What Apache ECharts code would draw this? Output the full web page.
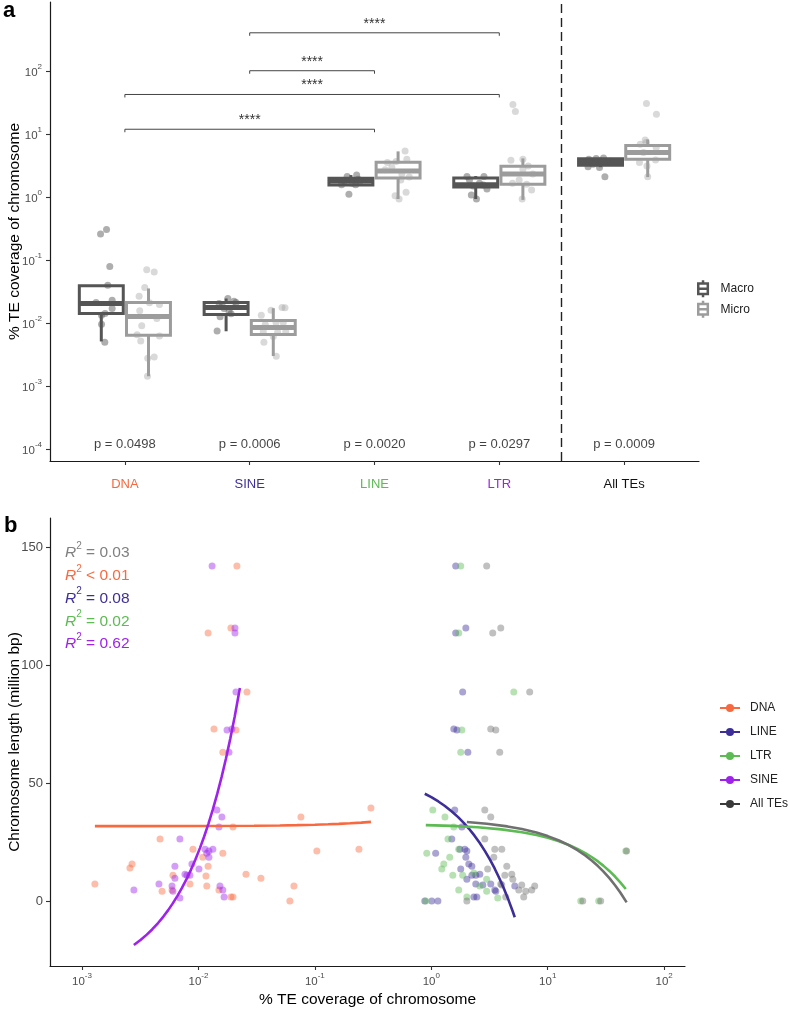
<!DOCTYPE html>
<html><head><meta charset="utf-8">
<script src="https://cdn.jsdelivr.net/npm/echarts@6/dist/echarts.min.js"></script>
<style>html,body{margin:0;padding:0;background:#fff}#c{width:789px;height:1010px}</style>
</head><body><div id="c"></div>
<script>
// ---------------- Panel a data ----------------
const categories = ['DNA', 'SINE', 'LINE', 'LTR', 'All TEs'];
const categoryColors = ['#F8693F', '#3E2F98', '#5CBB52', '#9E22EC', '#111111'];
const pValues = ['p = 0.0498', 'p = 0.0006', 'p = 0.0020', 'p = 0.0297', 'p = 0.0009'];
// box stats per category: [lower whisker, Q1, median, Q3, upper whisker]
const macroBox = [
  [0.0051, 0.0142, 0.0204, 0.039, 0.039],
  [0.0074, 0.0137, 0.0177, 0.0211, 0.0245],
  [1.50, 1.55, 1.79, 1.99, 2.23],
  [0.93, 1.44, 1.57, 2.0, 2.15],
  [2.98, 3.20, 3.57, 4.06, 4.2]
];
const microBox = [
  [0.00143, 0.00637, 0.0127, 0.0211, 0.0354],
  [0.0030, 0.0066, 0.0085, 0.0110, 0.0172],
  [0.93, 2.0, 2.58, 3.57, 5.3],
  [0.90, 1.60, 2.31, 3.09, 4.1],
  [2.07, 3.98, 5.1, 6.6, 8.2]
];
// jittered points: [category index, jitter, value]
const macroPoints = [
  [0,-0.006,0.260],[0,0.042,0.304],[0,0.068,0.0792],[0,0.052,0.0397],[0,0.087,0.0230],[0,-0.042,0.0211],
  [0,0.087,0.0170],[0,0.002,0.0133],[0,0.002,0.0096],[0,0.028,0.00494],[0,0.03,0.0142],
  [1,0.014,0.0245],[1,0.064,0.0222],[1,-0.056,0.0204],[1,-0.016,0.0170],[1,0.024,0.0153],[1,-0.048,0.0126],
  [1,-0.072,0.00745],[1,0.08,0.0211],[1,-0.03,0.0185],[1,0.04,0.0140],
  [2,-0.075,1.56],[2,-0.03,2.12],[2,0.046,2.23],[2,0.038,1.56],[2,-0.016,1.11],[2,0.06,1.92],[2,-0.05,1.79],[2,0.01,1.66],[2,0.07,1.75],
  [3,-0.07,2.12],[3,0.066,2.12],[3,-0.035,1.08],[3,0.006,0.93],[3,0.09,1.34],[3,-0.05,1.86],[3,0.03,1.66],[3,0.06,1.55],[3,-0.02,1.5],
  [4,-0.10,3.01],[4,-0.008,2.94],[4,0.035,2.09],[4,-0.035,4.09],[4,0.024,4.18],[4,-0.094,3.98],[4,0.05,3.57],[4,-0.06,3.32],[4,0.08,3.7]
];
const microPoints = [
  [0,-0.014,0.0703],[0,0.046,0.0646],[0,-0.030,0.0365],[0,-0.075,0.0266],[0,0.008,0.0209],[0,0.088,0.0197],
  [0,-0.070,0.0156],[0,0.067,0.0118],[0,-0.054,0.00906],[0,-0.091,0.00653],[0,0.088,0.00621],[0,-0.062,0.00518],
  [0,-0.006,0.00276],[0,0.046,0.00289],[0,-0.008,0.00143],
  [1,-0.096,0.0133],[1,-0.018,0.0160],[1,0.07,0.0176],[1,0.094,0.0175],[1,-0.064,0.0095],[1,0.022,0.0102],[1,0.08,0.0102],
  [1,-0.08,0.00729],[1,0.035,0.00711],[1,0.10,0.0073],[1,-0.075,0.00494],[1,0.024,0.00297],[1,0.0,0.00614],
  [2,0.056,5.39],[2,-0.086,3.53],[2,-0.016,3.66],[2,0.070,3.98],[2,-0.104,2.70],[2,0.022,1.86],[2,0.064,1.19],
  [2,-0.024,1.05],[2,0.008,0.93],[2,0.03,2.31],[2,-0.05,2.98],[2,0.09,2.07],
  [3,-0.096,3.84],[3,0.0,3.98],[3,0.043,3.12],[3,-0.03,1.86],[3,-0.083,1.65],[3,0.03,1.59],[3,0.07,1.29],
  [3,-0.006,0.93],[3,0.0,2.77],[3,-0.08,29.5],[3,-0.06,22.8],[3,0.08,2.31],
  [4,-0.02,8.04],[4,-0.06,6.87],[4,-0.012,7.31],[4,0.068,6.10],[4,-0.066,3.53],[4,0.063,3.88],[4,-0.006,3.12],
  [4,0.0,2.09],[4,-0.034,5.08],[4,-0.01,30.5],[4,0.07,20.5]
];
// significance brackets: [from category, to category, height]
const brackets = [[1, 3, 11.9], [1, 4, 42.4], [2, 3, 101], [2, 4, 404]];
const sigLabel = '****';
const yTicksA = [1e-4, 1e-3, 1e-2, 1e-1, 1, 10, 100];

// ---------------- Panel b data ----------------
const teNames = ['DNA', 'LINE', 'LTR', 'SINE', 'All TEs'];
const teColors = ['#F8693F', '#3E2F98', '#5CBB52', '#9E22EC', '#707070'];
// points: [% TE coverage, chromosome length (Mb)]
const dnaPoints = [
  [0.0214,142],[0.0121,113.6],[0.0190,115.7],[0.0261,88.6],[0.0136,72.9],[0.0210,72.5],[0.0162,63.1],
  [0.00129,7.2],[0.00258,14.0],[0.00269,15.7],[0.00468,26.3],[0.00487,4.2],[0.00604,11.0],[0.00593,4.7],
  [0.00845,7.2],[0.00897,22.0],[0.0109,18.6],[0.0116,10.6],[0.0118,6.4],[0.0121,14.8],[0.0150,4.7],
  [0.0162,20.3],[0.0190,1.7],[0.0198,1.7],[0.0198,31.4],[0.0256,11.4],[0.0344,9.7],[0.0610,0.0],
  [0.0661,6.4],[0.0759,35.6],[0.104,21.2],[0.239,22.0],[0.303,39.4]
];
const sinePoints = [
  [0.0131,142],[0.0206,115.7],[0.0206,113.6],[0.0210,88.6],[0.0176,72.5],[0.0194,72.9],[0.0183,63.1],
  [0.00279,4.7],[0.00458,7.2],[0.00593,6.4],[0.00604,4.2],[0.00628,14.8],[0.00628,9.7],[0.00693,1.3],
  [0.00693,26.3],[0.00766,11.4],[0.00796,11.0],[0.00845,11.0],[0.00879,15.7],[0.0101,13.6],[0.0114,22.0],
  [0.0118,20.3],[0.0123,18.6],[0.0123,21.2],[0.0133,22.0],[0.0144,38.6],[0.0150,31.4],[0.0159,35.6],
  [0.0153,6.4],[0.0162,4.7],[0.0166,1.7]
];
const linePoints = [
  [1.62,142],[1.62,113.6],[1.98,115.7],[1.86,88.6],[1.56,72.9],[1.66,72.5],[2.06,63.1],
  [1.59,38.6],[1.83,31.4],[1.50,26.3],[1.09,20.3],[1.76,22.0],[1.94,22.0],[2.02,21.2],[1.98,18.6],
  [2.10,15.7],[2.23,14.8],[1.79,13.6],[2.02,9.3],[2.23,11.0],[2.41,11.0],[2.61,11.4],[2.41,7.2],
  [2.77,6.8],[3.24,7.2],[3.51,4.7],[3.58,4.2],[2.32,1.7],[2.46,1.7],[1.01,0],[1.14,0],[0.879,0],[5.21,6.4]
];
const ltrPoints = [
  [1.79,142],[1.72,113.6],[5.11,88.6],[1.83,72.5],[1.79,63.1],
  [1.03,38.6],[1.31,35.6],[1.56,31.4],[1.39,26.3],[0.914,20.3],[1.44,18.6],[1.28,15.7],[1.23,13.6],
  [1.53,11.0],[1.72,4.7],[1.86,11.0],[2.02,1.7],[2.32,11.9],[2.61,6.4],[2.99,9.3],[2.99,4.2],[3.72,1.3],
  [0.897,0],[19.2,0],[27.4,0],[46.8,21.2],[1.72,22.0]
];
const allPoints = [
  [2.99,142],[3.37,113.6],[3.95,115.7],[7.00,88.6],[3.24,72.9],[3.58,72.5],[3.87,63.1],
  [2.88,38.6],[3.24,35.6],[2.88,26.3],[3.51,22.0],[4.03,22.0],[3.44,18.6],[4.45,14.8],[3.05,13.6],
  [4.28,11.0],[4.91,11.4],[5.01,9.3],[3.95,7.2],[4.03,6.8],[5.64,4.7],[6.47,4.2],[7.29,4.7],[7.73,6.4],
  [5.98,6.8],[4.36,1.7],[6.22,1.7],[2.02,0],[20.0,0],[28.5,0],[47.6,21.2]
];
// fitted regression lines: [coverage, length]
const dnaFit = [[0.00129,31.76],[0.003,31.77],[0.01,31.81],[0.03,31.93],[0.05,32.05],[0.07,32.17],[0.1,32.35],
  [0.13,32.53],[0.16,32.71],[0.2,32.95],[0.25,33.25],[0.303,33.57]];
const lineFit = [[0.879,45.48],[1.0,44.02],[1.15,42.21],[1.3,40.40],[1.5,37.98],[1.7,35.56],[1.9,33.15],[2.1,30.73],
  [2.35,27.71],[2.6,24.69],[2.9,21.07],[3.2,17.44],[3.5,13.82],[3.85,9.59],[4.2,5.36],[4.6,0.53],[5.0,-4.3],[5.21,-6.84]];
const ltrFit = [[0.897,32.20],[1.5,31.85],[2.5,31.26],[4,30.37],[6,29.19],[8,28.01],[10,26.83],[12.5,25.36],[15,23.88],
  [18,22.11],[21,20.34],[24,18.57],[27,16.80],[30,15.03],[34,12.67],[38,10.31],[42,7.95],[46.8,5.12]];
const sineFit = [[0.00279,-18.64],[0.0032,-16.40],[0.0036,-14.21],[0.004,-12.02],[0.0045,-9.29],[0.005,-6.55],
  [0.0055,-3.82],[0.006,-1.08],[0.0066,2.20],[0.0072,5.48],[0.0079,9.31],[0.0086,13.14],[0.0094,17.52],[0.0103,22.44],
  [0.0112,27.36],[0.0122,32.83],[0.0133,38.85],[0.0145,45.42],[0.0158,52.53],[0.0172,60.18],[0.0188,68.94],
  [0.0205,78.24],[0.0227,90.27]];
const allFit = [[2.02,33.49],[3,32.76],[4.5,31.64],[6,30.52],[8,29.02],[10,27.53],[12.5,25.66],[15,23.80],[18,21.55],
  [21,19.31],[24,17.07],[27,14.83],[30,12.59],[34,9.60],[38,6.61],[42,3.63],[47.6,-0.56]];
const r2Order = ['All TEs', 'DNA', 'LINE', 'LTR', 'SINE'];
const r2Text = ['= 0.03', '< 0.01', '= 0.08', '= 0.02', '= 0.62'];
const xTicksB = [1e-3, 1e-2, 1e-1, 1, 10, 100];
const yTicksB = [0, 50, 100, 150];

// ---------------- layout / style ----------------
const FONT = 'Liberation Sans, Arial, Helvetica, sans-serif';
const DODGE = 0.189, HALFBOX = 0.176;
const MACRO_C = '#555555', MICRO_C = '#9C9C9C';
const P_LEVEL = 1.17e-4;
const chart = echarts.init(document.getElementById('c'), null, {renderer: 'canvas'});

function rgba(hex, a) {
  const n = parseInt(hex.slice(1), 16);
  return `rgba(${n >> 16},${(n >> 8) & 255},${n & 255},${a})`;
}
function powLabel(v) {
  const e = Math.round(Math.log10(v));
  return '{b|10}{s|' + e + '}';
}
const powRich = {
  b: {fontSize: 11.5, color: '#4D4D4D', lineHeight: 16, verticalAlign: 'bottom', fontFamily: FONT},
  s: {fontSize: 8, color: '#4D4D4D', lineHeight: 10, verticalAlign: 'top', fontFamily: FONT}
};

function boxRenderer(offset, color) {
  return function (params, api) {
    const x = api.value(0) + offset;
    const mn = api.coord([x, api.value(1)]);
    const q1 = api.coord([x, api.value(2)]);
    const md = api.coord([x, api.value(3)]);
    const q3 = api.coord([x, api.value(4)]);
    const mx = api.coord([x, api.value(5)]);
    const l = api.coord([x - HALFBOX, api.value(3)])[0];
    const r = api.coord([x + HALFBOX, api.value(3)])[0];
    const st = {stroke: color, lineWidth: 3, fill: null};
    return {type: 'group', children: [
      {type: 'line', shape: {x1: mx[0], y1: mx[1], x2: q3[0], y2: q3[1]}, style: st},
      {type: 'line', shape: {x1: q1[0], y1: q1[1], x2: mn[0], y2: mn[1]}, style: st},
      {type: 'rect', shape: {x: l, y: q3[1], width: r - l, height: q1[1] - q3[1]}, style: {stroke: color, lineWidth: 3, fill: '#fff'}},
      {type: 'line', shape: {x1: l, y1: md[1], x2: r, y2: md[1]}, style: {stroke: color, lineWidth: 5}}
    ]};
  };
}

const boxIcon = 'path://M5,0L5,3M0.5,3L9.5,3L9.5,13L0.5,13ZM0.5,8L9.5,8M5,13L5,16';

const fitSets = [dnaFit, lineFit, ltrFit, sineFit, allFit];
const pointSets = [dnaPoints, linePoints, ltrPoints, sinePoints, allPoints];

const series = [
  {name: 'Macro', type: 'custom', xAxisIndex: 0, yAxisIndex: 0, renderItem: boxRenderer(-DODGE, MACRO_C),
   encode: {x: 0, y: [1, 2, 3, 4, 5]}, data: macroBox.map((b, i) => [i + 1].concat(b)), z: 2},
  {name: 'Micro', type: 'custom', xAxisIndex: 0, yAxisIndex: 0, renderItem: boxRenderer(DODGE, MICRO_C),
   encode: {x: 0, y: [1, 2, 3, 4, 5]}, data: microBox.map((b, i) => [i + 1].concat(b)), z: 2},
  {name: 'Macro', type: 'scatter', xAxisIndex: 0, yAxisIndex: 0, symbolSize: 7, z: 3,
   itemStyle: {color: rgba('#555555', 0.6)}, data: macroPoints.map(p => [p[0] + 1 - DODGE + p[1], p[2]])},
  {name: 'Micro', type: 'scatter', xAxisIndex: 0, yAxisIndex: 0, symbolSize: 7, z: 3,
   itemStyle: {color: rgba('#A0A0A0', 0.5)}, data: microPoints.map(p => [p[0] + 1 + DODGE + p[1], p[2]])},
  {type: 'custom', xAxisIndex: 0, yAxisIndex: 0, z: 4, data: brackets,
   encode: {x: [0, 1], y: 2},
   renderItem: function (params, api) {
     const a = api.coord([api.value(0), api.value(2)]);
     const b = api.coord([api.value(1), api.value(2)]);
     return {type: 'group', children: [
       {type: 'polyline', shape: {points: [[a[0], a[1] + 3], [a[0], a[1]], [b[0], b[1]], [b[0], b[1] + 3]]},
        style: {stroke: '#444', lineWidth: 1, fill: null}},
       {type: 'text', x: (a[0] + b[0]) / 2, y: a[1] - 2,
        style: {text: sigLabel, align: 'center', verticalAlign: 'bottom', fontSize: 14, fontFamily: FONT, fill: '#333'}}
     ]};
   }},
  {type: 'scatter', xAxisIndex: 0, yAxisIndex: 0, symbolSize: 1, itemStyle: {color: 'rgba(0,0,0,0)'}, silent: true, z: 4,
   data: categories.map((c, i) => [i + 1, P_LEVEL]),
   label: {show: true, position: 'inside', formatter: p => pValues[p.dataIndex], fontSize: 13, fontFamily: FONT, color: '#111'},
   markLine: {silent: true, symbol: ['none', 'none'], label: {show: false},
     lineStyle: {type: [9, 5], color: '#222', width: 1.4}, data: [{xAxis: 4.5}]}}
];
// panel b lines (declared first so the legend uses the line icon)
teNames.forEach((n, i) => {
  series.push({name: n, type: 'line', xAxisIndex: 1, yAxisIndex: 1, data: fitSets[i], showSymbol: false,
    symbol: 'circle', symbolSize: 5, smooth: false, z: 5,
    lineStyle: {color: teColors[i], width: 2.6}, itemStyle: {color: teColors[i]}});
});
teNames.forEach((n, i) => {
  series.push({name: n, type: 'scatter', xAxisIndex: 1, yAxisIndex: 1, data: pointSets[i], symbolSize: 7, z: 3,
    itemStyle: {color: rgba(teColors[i], 0.55)}});
});

const axisLine = {show: true, onZero: false, lineStyle: {color: '#1a1a1a', width: 1.2}};
const axisTick = {show: true, length: 4, lineStyle: {color: '#333', width: 1.1}};
const titleStyle = {fontSize: 15.5, color: '#000', fontFamily: FONT};

const catRich = {};
categories.forEach((c, i) => { catRich['c' + i] = {color: categoryColors[i], fontSize: 13, fontFamily: FONT}; });

const option = {
  backgroundColor: '#fff',
  animation: false,
  textStyle: {fontFamily: FONT},
  grid: [
    {left: 50, top: 2, width: 649, height: 459, containLabel: false, outerBoundsMode: 'none'},
    {left: 50, top: 518, width: 635, height: 448, containLabel: false, outerBoundsMode: 'none'}
  ],
  xAxis: [
    {type: 'value', gridIndex: 0, min: 0.4, max: 5.6, axisLine, splitLine: {show: false},
     axisTick: Object.assign({}, axisTick, {customValues: [1, 2, 3, 4, 5]}),
     axisLabel: {customValues: [1, 2, 3, 4, 5], margin: 17, rich: catRich,
       formatter: v => '{c' + (Math.round(v) - 1) + '|' + categories[Math.round(v) - 1] + '}'}},
    {type: 'log', gridIndex: 1, min: 5.31e-4, max: 151, axisLine, splitLine: {show: false},
     axisTick: Object.assign({}, axisTick, {customValues: xTicksB}),
     axisLabel: {customValues: xTicksB, margin: 6, formatter: powLabel, rich: powRich},
     name: '% TE coverage of chromosome', nameLocation: 'middle', nameGap: 26, nameMoveOverlap: false,
     nameTextStyle: titleStyle}
  ],
  yAxis: [
    {type: 'log', gridIndex: 0, min: 6.46e-5, max: 1245, axisLine, splitLine: {show: false},
     axisTick: Object.assign({}, axisTick, {customValues: yTicksA}),
     axisLabel: {customValues: yTicksA, margin: 8, formatter: powLabel, rich: powRich},
     name: '% TE coverage of chromosome', nameLocation: 'middle', nameGap: 27, nameMoveOverlap: false,
     nameTextStyle: titleStyle},
    {type: 'value', gridIndex: 1, min: -27.5, max: 162.3, axisLine, splitLine: {show: false},
     axisTick: Object.assign({}, axisTick, {customValues: yTicksB}),
     axisLabel: {customValues: yTicksB, margin: 7, fontSize: 13, color: '#4D4D4D', fontFamily: FONT},
     name: 'Chromosome length (million bp)', nameLocation: 'middle', nameGap: 27, nameMoveOverlap: false,
     nameTextStyle: titleStyle}
  ],
  legend: [
    {orient: 'vertical', left: 692, top: 274, itemWidth: 17, itemHeight: 17, itemGap: 1, selectedMode: false,
     textStyle: {fontSize: 12, color: '#222', fontFamily: FONT, padding: [0, 0, 0, 4]},
     data: [
       {name: 'Macro', icon: boxIcon, itemStyle: {color: '#fff', borderColor: MACRO_C, borderWidth: 2.5}},
       {name: 'Micro', icon: boxIcon, itemStyle: {color: '#fff', borderColor: MICRO_C, borderWidth: 2.5}}
     ]},
    {orient: 'vertical', left: 714, top: 697, itemWidth: 20, itemHeight: 10, itemGap: 12, selectedMode: false,
     textStyle: {fontSize: 12, color: '#222', fontFamily: FONT, padding: [0, 0, 0, 5]},
     data: teNames.map((n, i) => n === 'All TEs'
       ? {name: n, itemStyle: {color: '#3a3a3a'}, lineStyle: {color: '#3a3a3a'}}
       : {name: n})}
  ],
  graphic: [
    {type: 'text', left: 3, top: 0, style: {text: 'a', font: 'bold 22px ' + FONT, fill: '#000'}},
    {type: 'text', left: 4, top: 515, style: {text: 'b', font: 'bold 22px ' + FONT, fill: '#000'}}
  ].concat(r2Order.map((n, i) => {
    const col = n === 'All TEs' ? '#808080' : teColors[teNames.indexOf(n)];
    return {type: 'text', x: 65, y: 551 + i * 22.75,
      style: {text: '{r|R}{s|2}{t| ' + r2Text[i] + '}', verticalAlign: 'middle', rich: {
        r: {fontSize: 15.5, fontStyle: 'italic', fill: col, color: col, lineHeight: 20, verticalAlign: 'bottom', fontFamily: FONT},
        s: {fontSize: 10, fill: col, color: col, lineHeight: 13, verticalAlign: 'top', fontFamily: FONT},
        t: {fontSize: 15.5, fill: col, color: col, lineHeight: 20, verticalAlign: 'bottom', fontFamily: FONT}
      }}};
  })),
  series
};
chart.setOption(option);
</script>
</body></html>
